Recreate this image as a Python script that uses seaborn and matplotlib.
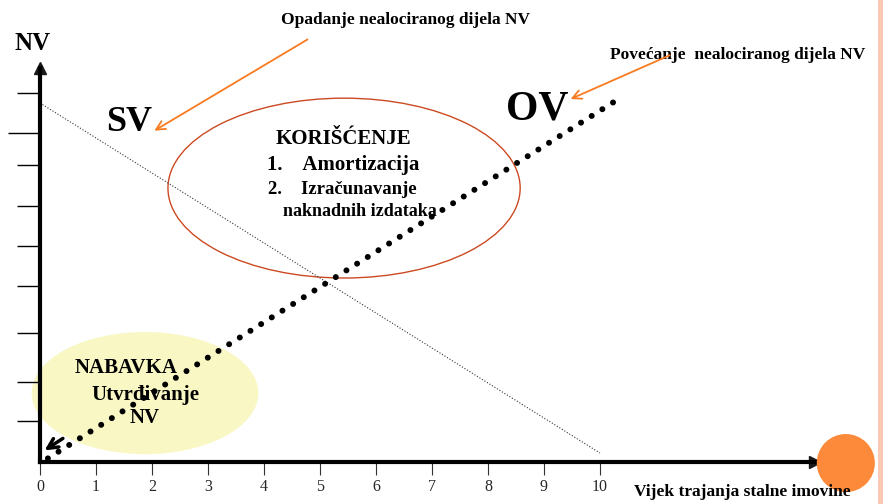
import matplotlib.pyplot as plt
import seaborn as sns
from matplotlib.patches import Ellipse, Rectangle

sns.set_theme(style="white")
plt.rcParams['font.family'] = ['Liberation Serif', 'DejaVu Serif']

# data
x_ticks = [0, 1, 2, 3, 4, 5, 6, 7, 8, 9, 10]
y_ticks = [10.28, 8.27, 7.13, 6.02, 4.90, 3.59, 2.23, 1.14]
y_tick_long = [9.16]
sv_x = [0, 10]
sv_y = [10.0, 0.25]
ov_x = [0.14, 10.3]
ov_y = [0.1, 10.08]

fig = plt.figure(figsize=(8.83, 5.04), dpi=100)
ax = fig.add_axes([40 / 883, 42 / 504, 775 / 883, 394 / 504])
ax.set_xlim(0, 13.84)
ax.set_ylim(0, 10.975)

# axes with arrows
for s in ['top', 'right']:
    ax.spines[s].set_visible(False)
for s in ['left', 'bottom']:
    ax.spines[s].set_color('black')
    ax.spines[s].set_linewidth(3)
ax.plot(1, 0, '>k', ms=9, transform=ax.get_yaxis_transform(), clip_on=False)
ax.plot(0, 1, '^k', ms=9, transform=ax.get_xaxis_transform(), clip_on=False)

ax.set_xticks(x_ticks)
ax.set_xticklabels([str(t) for t in x_ticks])
ax.set_yticks(y_ticks)
ax.set_yticklabels([])
ax.set_yticks(y_tick_long, minor=True)
ax.tick_params(axis='x', bottom=True, direction='out', length=9.5, width=0.8,
               color='#333333', pad=3, labelsize=11.5)
ax.tick_params(axis='y', which='major', left=True, direction='out', length=16.5,
               width=1, color='black')
ax.tick_params(axis='y', which='minor', left=True, direction='out', length=23,
               width=1, color='black')
ax.grid(False)

# ellipses
ax.add_patch(Ellipse((1.875, 1.92), 4.05, 3.4, facecolor='#f9f7c4',
                     edgecolor='none', zorder=0.5, clip_on=False))
ax.add_patch(Ellipse((5.43, 7.63), 6.29, 5.01, facecolor='none',
                     edgecolor='#cc4a22', lw=1, zorder=1, clip_on=False))

# lines
sns.lineplot(x=sv_x, y=sv_y, ax=ax, color='#333333', lw=0.8, linestyle=':')
sns.lineplot(x=ov_x, y=ov_y, ax=ax, color='black', lw=4.3,
             dash_capstyle='round', linestyle=(0, (0.01, 2.1)))

# orange circle bottom right
ax.scatter([14.39], [-0.03], s=1750, color='#fd8a3a', edgecolor='none',
           clip_on=False, zorder=3)

# texts
bold = dict(fontweight='bold', color='black')
ax.text(-0.14, 11.67, 'NV', fontsize=18, ha='center', va='center', **bold)
ax.text(1.59, 9.47, 'SV', fontsize=26, ha='center', va='center', **bold)
ax.text(8.88, 9.81, 'OV', fontsize=30, ha='center', va='center', **bold)
ax.text(6.52, 12.31, 'Opadanje nealociranog dijela NV', fontsize=12.5,
        ha='center', va='center', **bold)
ax.text(10.18, 11.34, 'Povećanje  nealociranog dijela NV', fontsize=12.5,
        ha='left', va='center', **bold)
ax.text(5.41, 9.0, 'KORIŠĆENJE', fontsize=15, ha='center', va='center', **bold)
ax.text(4.05, 8.27, '1.    Amortizacija', fontsize=15, ha='left', va='center', **bold)
ax.text(4.07, 7.6, '2.    Izračunavanje', fontsize=13.5, ha='left', va='center', **bold)
ax.text(4.34, 6.99, 'naknadnih izdataka', fontsize=13, ha='left', va='center', **bold)
ax.text(1.54, 2.62, 'NABAVKA', fontsize=15, ha='center', va='center', **bold)
ax.text(1.89, 1.87, 'Utvrđivanje', fontsize=15, ha='center', va='center', **bold)
ax.text(1.875, 1.23, 'NV', fontsize=15, ha='center', va='center', **bold)
ax.text(12.54, -0.84, 'Vijek trajanja stalne imovine', fontsize=12.5,
        ha='center', va='center', **bold)

# arrows
ax.annotate('', xy=(2.0, 9.19), xytext=(4.82, 11.81), annotation_clip=False,
            arrowprops=dict(arrowstyle='->', color='#f97a1f', lw=1.3,
                            mutation_scale=16))
ax.annotate('', xy=(9.43, 10.08), xytext=(11.29, 11.36), annotation_clip=False,
            arrowprops=dict(arrowstyle='->', color='#f97a1f', lw=1.3,
                            mutation_scale=16))
ax.annotate('', xy=(0.04, 0.28), xytext=(0.45, 0.70), annotation_clip=False,
            arrowprops=dict(arrowstyle='->', color='black', lw=2.5,
                            mutation_scale=18))

# pink band at the right edge
fig.add_artist(Rectangle((878 / 883, 0), 5 / 883, 1, transform=fig.transFigure,
                         facecolor='#fcc8b6', edgecolor='none'))

fig.savefig('out.png', dpi=100)
